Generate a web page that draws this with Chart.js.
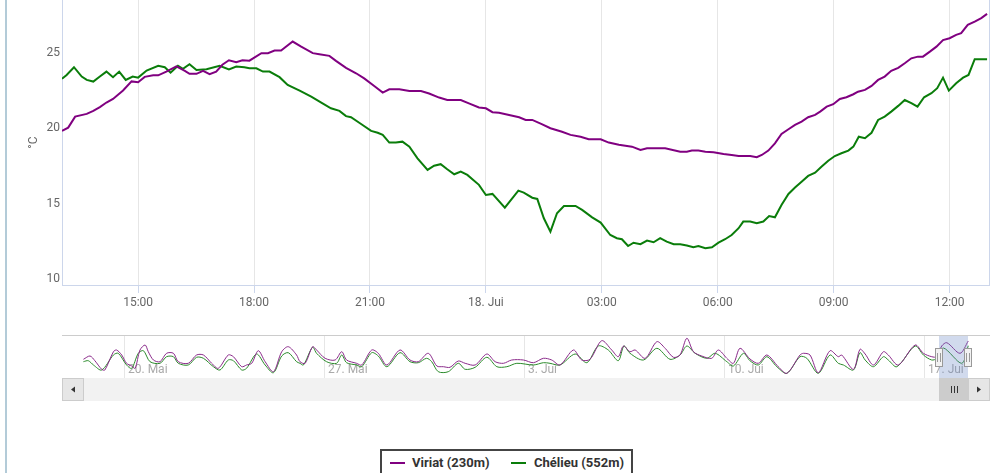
<!DOCTYPE html>
<html>
<head>
<meta charset="utf-8">
<script src="https://cdn.jsdelivr.net/npm/chart.js@4"></script>
<style>
body { margin: 0; width: 1000px; height: 473px; overflow: hidden; position: relative; background: #fff; font-family: Roboto, sans-serif; }
#frame { position: absolute; left: 5px; top: 0; width: 2px; height: 473px; background: #b3cbd8; }
#main { position: absolute; left: 0; top: -20px; }
#nav { position: absolute; left: 0; top: 330px; }
#legend { position: absolute; left: 380px; top: 449px; width: 249px; height: 40px; border: 2px solid #444; font: bold 13px Roboto, sans-serif; color: #333; }
#legend .sym { position: absolute; top: 11px; width: 15px; height: 2px; }
#legend .txt { position: absolute; top: 4px; line-height: 16px; white-space: nowrap; }
</style>
</head>
<body>
<div id="frame"></div>
<canvas id="main" width="1000" height="345"></canvas>
<canvas id="nav" width="1000" height="80"></canvas>
<div id="legend">
  <span class="sym" style="left:8px;background:#800080"></span><span class="txt" style="left:30px">Viriat (230m)</span>
  <span class="sym" style="left:129px;background:#0a7d0a"></span><span class="txt" style="left:152px">Chélieu (552m)</span>
</div>
<script>
// main chart: hours since 17. Jui 00:00
const viriatHours = [13.03,13.19,13.37,13.67,13.84,14.01,14.18,14.35,14.61,14.83,15.00,15.17,15.39,15.52,15.73,15.99,16.21,16.33,16.51,16.68,16.85,17.02,17.18,17.35,17.54,17.70,17.88,18.19,18.36,18.53,18.70,19.00,19.22,19.52,19.69,19.95,20.12,20.38,20.64,20.85,21.11,21.33,21.50,21.76,22.02,22.32,22.53,22.79,23.00,23.35,23.56,23.82,24.00,24.17,24.34,24.60,24.86,25.03,25.20,25.46,25.67,25.97,26.19,26.45,26.66,26.97,27.18,27.44,27.78,28.00,28.17,28.64,29.03,29.20,29.33,29.50,29.68,29.89,30.15,30.36,30.54,30.84,31.01,31.14,31.31,31.48,31.65,31.83,32.00,32.17,32.34,32.52,32.65,32.82,32.99,33.16,33.33,33.51,33.63,33.81,33.98,34.15,34.32,34.49,34.67,34.84,35.01,35.18,35.31,35.49,35.66,35.83,36.00,36.17,36.30,36.47,36.65,36.82,36.97];
const viriatTemps = [19.82,20.04,20.77,20.95,21.15,21.40,21.70,21.94,22.50,23.10,23.05,23.40,23.50,23.50,23.75,24.10,23.80,23.60,23.60,23.80,23.58,23.75,24.20,24.50,24.37,24.50,24.47,24.97,24.97,25.14,25.14,25.74,25.40,24.97,24.90,24.79,24.46,24.00,23.64,23.30,22.80,22.36,22.58,22.58,22.47,22.47,22.30,22.03,21.87,21.87,21.65,21.37,21.32,21.06,21.03,20.88,20.73,20.55,20.55,20.26,20.00,19.77,19.56,19.44,19.27,19.27,19.05,18.90,18.78,18.56,18.67,18.67,18.45,18.45,18.52,18.52,18.45,18.41,18.30,18.23,18.16,18.16,18.08,18.23,18.52,19.00,19.62,19.93,20.22,20.44,20.73,20.88,21.10,21.43,21.59,21.94,22.05,22.25,22.42,22.54,22.80,23.20,23.42,23.80,24.00,24.30,24.63,24.74,24.74,25.07,25.40,25.84,25.96,26.18,26.30,26.84,27.06,27.29,27.57];
const chelieuHours = [13.03,13.15,13.34,13.54,13.67,13.84,14.01,14.18,14.35,14.51,14.68,14.86,15.00,15.22,15.52,15.69,15.84,16.03,16.16,16.33,16.51,16.77,17.11,17.35,17.54,17.75,17.88,18.06,18.23,18.40,18.66,18.87,19.18,19.48,19.74,19.99,20.21,20.38,20.51,20.77,21.03,21.20,21.33,21.50,21.67,21.84,22.02,22.23,22.49,22.66,22.83,23.00,23.18,23.35,23.52,23.82,24.00,24.17,24.49,24.84,24.98,25.20,25.33,25.50,25.67,25.84,26.02,26.32,26.49,26.75,26.97,27.22,27.39,27.52,27.68,27.82,28.00,28.17,28.34,28.51,28.68,28.86,29.03,29.20,29.37,29.50,29.68,29.85,30.02,30.19,30.36,30.54,30.66,30.84,31.01,31.18,31.33,31.48,31.65,31.83,32.00,32.17,32.34,32.52,32.69,32.86,33.03,33.20,33.38,33.51,33.65,33.81,33.98,34.15,34.32,34.49,34.67,34.84,35.01,35.17,35.34,35.53,35.68,35.83,35.98,36.17,36.35,36.49,36.65,36.97];
const chelieuTemps = [23.27,23.53,24.04,23.42,23.20,23.09,23.42,23.75,23.38,23.75,23.20,23.42,23.35,23.82,24.13,24.04,23.68,24.13,23.93,24.24,23.86,23.90,24.13,23.90,24.08,24.04,23.97,23.97,23.75,23.75,23.38,22.87,22.49,22.09,21.70,21.32,21.15,20.80,20.73,20.28,19.82,19.70,19.56,19.05,19.05,19.11,18.78,18.01,17.24,17.52,17.62,17.28,16.95,17.13,16.91,16.25,15.58,15.65,14.74,15.87,15.74,15.40,15.32,14.04,13.15,14.37,14.85,14.85,14.59,14.10,13.75,12.93,12.72,12.65,12.20,12.42,12.32,12.56,12.45,12.72,12.49,12.32,12.32,12.23,12.12,12.20,12.05,12.12,12.42,12.65,12.93,13.38,13.82,13.82,13.71,13.82,14.19,14.10,14.92,15.65,16.07,16.46,16.84,17.06,17.46,17.85,18.16,18.34,18.52,18.78,19.44,19.34,19.70,20.55,20.77,21.10,21.48,21.87,21.66,21.43,22.05,22.32,22.65,23.35,22.49,22.98,23.35,23.53,24.57,24.57];

const xTickHours = [15, 18, 21, 24, 27, 30, 33, 36];
const xTickLabels = ['15:00', '18:00', '21:00', '18. Jui', '03:00', '06:00', '09:00', '12:00'];
const yTicks = [10, 15, 20, 25];

// navigator: days since 20. Mai 00:00
const navViriatDays = [-1.42,-1.19,-1.02,-0.78,-0.67,-0.37,-0.26,-0.08,0.09,0.27,0.39,0.56,0.74,0.85,1.03,1.26,1.49,1.73,1.90,2.25,2.54,2.78,3.07,3.30,3.65,3.83,4.12,4.29,4.47,4.70,4.94,5.23,5.52,5.75,6.04,6.16,6.34,6.60,6.74,7.04,7.39,7.62,7.79,8.14,8.32,8.67,8.90,9.20,9.66,10.01,10.30,10.65,10.95,11.18,11.41,11.70,11.94,12.29,12.70,12.99,13.28,13.57,13.98,14.33,14.68,14.97,15.26,15.73,16.02,16.31,16.72,17.07,17.30,17.48,17.71,17.89,18.24,18.65,18.94,19.23,19.46,19.70,19.93,20.22,20.57,20.80,21.10,21.33,21.56,21.91,22.20,22.50,22.90,23.20,23.66,23.78,24.01,24.30,24.71,25.00,25.12,25.53,25.76,25.94,26.23,26.58,26.75,27.10,27.69,27.98,28.27,28.45,28.62,28.80,29.26,29.55];
const navViriatTemps = [14.47,16.67,13.53,7.8,7.33,19.53,20.67,17.33,11.8,10.0,8.47,20.67,24.0,19.53,14.0,12.87,18.47,18.47,12.87,11.8,17.33,17.33,11.8,8.47,17.33,16.2,9.53,10.67,11.8,20.2,12.87,6.2,19.53,22.87,17.33,12.87,11.8,22.87,20.67,15.13,14.0,19.53,14.0,11.8,10.67,20.67,18.47,10.67,20.67,14.0,12.87,18.47,10.0,9.53,9.13,13.33,11.8,10.67,18.0,12.87,11.8,14.0,14.0,12.2,15.13,14.0,10.67,20.67,14.0,14.47,26.87,20.67,16.2,23.33,19.53,20.67,15.13,26.2,21.8,15.8,17.33,28.47,19.53,16.67,15.13,20.67,15.13,11.8,21.8,14.67,11.8,17.33,9.53,5.13,17.33,18.47,17.33,5.53,20.2,16.2,17.33,7.8,21.13,18.0,10.67,19.53,17.33,10.67,24.0,18.47,16.2,16.2,23.33,25.53,18.47,26.67];
const navChelieuDays = [-1.42,-1.25,-1.07,-0.78,-0.37,-0.20,0.09,0.27,0.50,0.68,0.91,1.26,1.49,1.73,1.90,2.25,2.54,2.78,3.13,3.36,3.65,3.83,4.12,4.29,4.64,4.94,5.23,5.52,5.75,6.04,6.16,6.28,6.60,6.74,7.09,7.44,7.62,7.79,8.14,8.32,8.67,8.90,9.20,9.66,10.01,10.30,10.59,10.77,11.00,11.35,11.70,11.94,12.29,12.70,13.05,13.40,13.75,14.33,14.68,14.91,15.26,15.79,16.20,16.60,16.95,17.30,17.50,17.71,18.18,18.65,19.11,19.46,19.70,19.99,20.40,20.69,21.10,21.33,21.68,21.91,22.20,22.50,22.85,23.20,23.66,23.90,24.30,24.71,25.00,25.18,25.53,25.76,25.94,26.23,26.58,26.75,27.05,27.69,27.98,28.27,28.45,28.68,29.32,29.55];
const navChelieuTemps = [12.87,13.53,10.67,7.33,17.33,18.47,10.67,8.47,18.47,20.2,12.87,11.8,16.2,16.2,11.8,10.67,15.8,15.13,9.53,7.33,14.0,13.53,7.33,8.47,18.0,10.67,5.53,16.67,18.87,12.87,11.8,10.67,22.47,18.47,12.87,11.8,17.33,12.2,10.67,9.53,18.87,16.67,9.53,18.87,12.87,12.2,15.13,12.87,6.2,6.2,11.8,7.8,9.13,15.8,9.53,9.53,11.8,10.67,12.2,11.8,10.67,18.0,12.2,23.33,20.67,13.53,23.33,18.47,14.0,21.8,14.47,17.33,23.33,18.47,15.13,18.47,12.87,10.0,18.47,13.5,10.67,16.2,9.53,5.13,16.2,15.13,5.13,17.33,11.8,10.67,7.33,18.87,14.0,9.53,16.2,14.0,9.53,23.33,17.33,14.0,15.13,22.0,11.8,23.5];
const navTickDays = [0, 7, 14, 21, 28];
const navTickLabels = ['20. Mai', '27. Mai', '3. Jui', '10. Jui', '17. Jui'];
const navWindow = [28.54, 29.55];

const pairs = (xs, ys) => xs.map((x, i) => ({x: x, y: ys[i]}));
const font12 = {family: 'Roboto', size: 12};

const plotFrame = {
  id: 'plotFrame',
  afterDraw(chart) {
    const {ctx, chartArea: a} = chart;
    ctx.save();
    ctx.strokeStyle = '#ccd6eb';
    ctx.lineWidth = 1;
    ctx.beginPath();
    ctx.moveTo(a.right + 0.5, a.top);
    ctx.lineTo(a.right + 0.5, a.bottom);
    ctx.stroke();
    ctx.restore();
  }
};

new Chart(document.getElementById('main'), {
  type: 'line',
  data: {
    datasets: [
      {label: 'Viriat (230m)', data: pairs(viriatHours, viriatTemps), borderColor: '#800080', borderWidth: 2},
      {label: 'Chélieu (552m)', data: pairs(chelieuHours, chelieuTemps), borderColor: '#0a7d0a', borderWidth: 2}
    ]
  },
  options: {
    responsive: false,
    animation: false,
    events: [],
    layout: {padding: {top: 20, right: 11, left: 0, bottom: 0}},
    elements: {point: {radius: 0}, line: {tension: 0}},
    plugins: {legend: {display: false}, tooltip: {enabled: false}},
    scales: {
      x: {
        type: 'linear', min: 13.03, max: 37.02,
        afterBuildTicks: s => { s.ticks = xTickHours.map(v => ({value: v})); },
        afterFit: s => { s.height = 40; },
        grid: {color: '#e6e6e6', tickColor: '#ccd6eb', tickLength: 8},
        border: {color: '#ccd6eb'},
        ticks: {color: '#666', font: font12, padding: 3, maxRotation: 0, autoSkip: false,
                callback: (v, i) => xTickLabels[i]}
      },
      y: {
        min: 9.62, max: 28.49,
        afterBuildTicks: s => { s.ticks = yTicks.map(v => ({value: v})); },
        afterFit: s => { s.width = 62; },
        grid: {display: false, drawTicks: false},
        border: {color: '#ccd6eb'},
        ticks: {color: '#666', font: font12, padding: 2},
        title: {display: true, text: '°C', color: '#666', font: font12, padding: {top: 27, bottom: 0}}
      }
    }
  },
  plugins: [plotFrame]
});

const navigatorDecor = {
  id: 'navigatorDecor',
  beforeDatasetsDraw(chart) {
    // week labels sit inside the navigator, left-aligned to their grid line
    const {ctx, chartArea: a, scales: {x}} = chart;
    ctx.save();
    ctx.font = '12px Roboto';
    ctx.fillStyle = '#aaaaaa';
    ctx.textAlign = 'left';
    ctx.textBaseline = 'middle';
    navTickDays.forEach((d, i) => ctx.fillText(navTickLabels[i], x.getPixelForValue(d) + 4, a.bottom - 8));
    ctx.restore();
  },
  afterDraw(chart) {
    const {ctx, chartArea: a, scales: {x}} = chart;
    const x1 = Math.round(x.getPixelForValue(navWindow[0]));
    const x2 = Math.round(x.getPixelForValue(navWindow[1]));
    ctx.save();
    // selected range mask
    ctx.fillStyle = 'rgba(102,133,194,0.3)';
    ctx.fillRect(x1, a.top, x2 - x1, a.bottom - a.top);
    // outline
    ctx.strokeStyle = '#cccccc';
    ctx.lineWidth = 1;
    ctx.beginPath();
    ctx.moveTo(a.left, a.top - 0.5);
    ctx.lineTo(a.right, a.top - 0.5);
    ctx.stroke();
    // handles
    [x1, x2].forEach(hx => {
      const hy = a.top + 12;
      ctx.fillStyle = '#f2f2f2';
      ctx.fillRect(hx - 4, hy, 8, 19);
      ctx.strokeStyle = '#999999';
      ctx.strokeRect(hx - 3.5, hy + 0.5, 7, 18);
      ctx.beginPath();
      ctx.moveTo(hx - 1.5, hy + 5); ctx.lineTo(hx - 1.5, hy + 14);
      ctx.moveTo(hx + 1.5, hy + 5); ctx.lineTo(hx + 1.5, hy + 14);
      ctx.stroke();
    });
    // scrollbar
    const sy = a.bottom, sh = 23, bw = 22;
    ctx.fillStyle = '#f2f2f2';
    ctx.fillRect(a.left, sy, a.right - a.left, sh);
    ctx.fillStyle = '#cccccc';
    ctx.fillRect(x1, sy, x2 - x1, sh);
    ctx.strokeStyle = '#333';
    ctx.beginPath();
    const mid = Math.round((x1 + x2) / 2);
    [-3, 0, 3].forEach(d => { ctx.moveTo(mid + d + 0.5, sy + 8); ctx.lineTo(mid + d + 0.5, sy + 15); });
    ctx.stroke();
    [[a.left, -1], [a.right - bw, 1]].forEach(([bx, dir]) => {
      ctx.fillStyle = '#e6e6e6';
      ctx.fillRect(bx, sy, bw, sh);
      ctx.strokeStyle = '#cccccc';
      ctx.strokeRect(bx + 0.5, sy + 0.5, bw - 1, sh - 1);
      const cx = bx + bw / 2, cy = sy + sh / 2;
      ctx.fillStyle = '#333';
      ctx.beginPath();
      ctx.moveTo(cx + 2 * dir, cy);
      ctx.lineTo(cx - 2 * dir, cy - 3);
      ctx.lineTo(cx - 2 * dir, cy + 3);
      ctx.closePath();
      ctx.fill();
    });
    ctx.restore();
  }
};

new Chart(document.getElementById('nav'), {
  type: 'line',
  data: {
    datasets: [
      {data: pairs(navViriatDays, navViriatTemps), borderColor: '#8a2a8a', borderWidth: 1},
      {data: pairs(navChelieuDays, navChelieuTemps), borderColor: '#2a8a2a', borderWidth: 1}
    ]
  },
  options: {
    responsive: false,
    animation: false,
    events: [],
    layout: {padding: {top: 6, left: 62, right: 10, bottom: 0}},
    elements: {point: {radius: 0}, line: {tension: 0.3}},
    plugins: {legend: {display: false}, tooltip: {enabled: false}},
    scales: {
      x: {
        type: 'linear', min: -2.17, max: 30.31,
        afterBuildTicks: s => { s.ticks = navTickDays.map(v => ({value: v})); },
        afterFit: s => { s.height = 32; },
        grid: {color: '#e6e6e6', drawTicks: false},
        border: {display: false},
        ticks: {display: false}
      },
      y: {display: false, min: 2, max: 30}
    }
  },
  plugins: [navigatorDecor]
});
</script>
</body>
</html>
